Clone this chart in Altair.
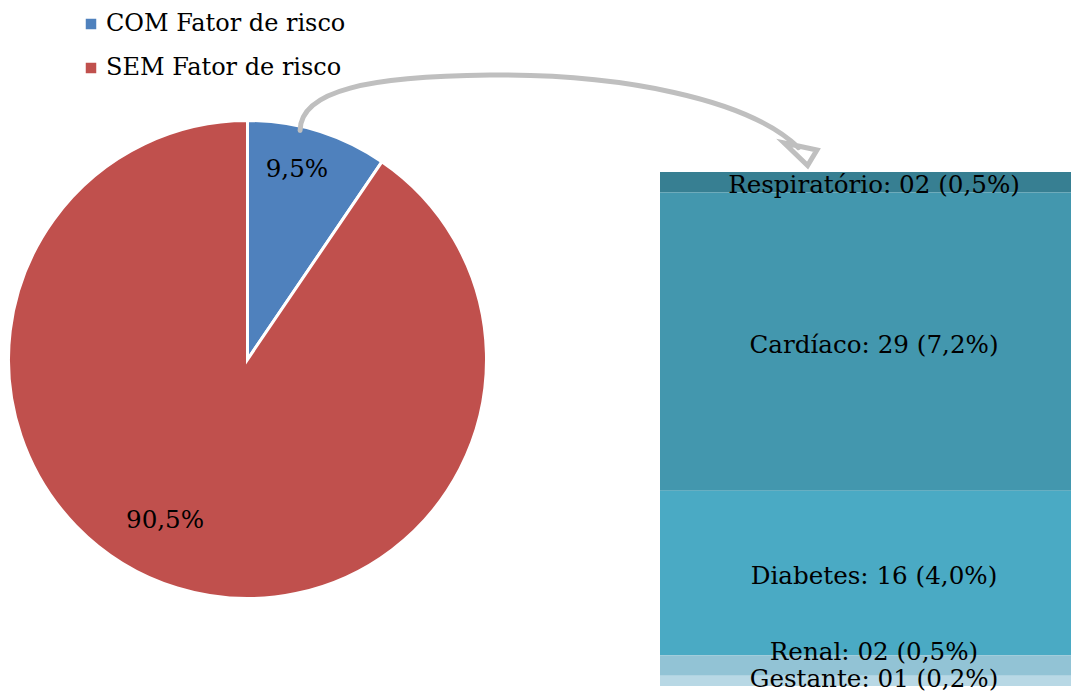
import altair as alt
import pandas as pd

# Pie data
pie_cats = ["COM Fator de risco", "SEM Fator de risco"]
pie_vals = [9.5, 90.5]
pie_labels = ["9,5%", "90,5%"]
pie_colors = ["#4f81bd", "#c0504d"]

# Stacked bar data (breakdown of "COM Fator de risco")
bar_cats = ["Respiratório", "Cardíaco", "Diabetes", "Renal", "Gestante"]
bar_vals = [2, 29, 16, 2, 1]
bar_labels = ["Respiratório: 02 (0,5%)", "Cardíaco: 29 (7,2%)", "Diabetes: 16 (4,0%)",
              "Renal: 02 (0,5%)", "Gestante: 01 (0,2%)"]
bar_colors = ["#377f92", "#4397ae", "#4aaac4", "#92c3d5", "#b8d8e5"]

FONT = "DejaVu Serif"
FS = 24.6

pie_df = pd.DataFrame({"cat": pie_cats, "v": pie_vals, "lab": pie_labels,
                       "ord": list(range(len(pie_cats)))})
bar_df = pd.DataFrame({"cat": bar_cats, "v": bar_vals, "lab": bar_labels,
                       "ord": list(range(len(bar_cats)))})

CX, CY, R = 239.5, 351.5, 239

pie = alt.Chart(pie_df).mark_arc(radius=R, stroke="white", strokeWidth=3).encode(
    theta=alt.Theta("v:Q", stack=True),
    order=alt.Order("ord:Q"),
    color=alt.Color("cat:N", scale=alt.Scale(domain=pie_cats, range=pie_colors),
                    legend=alt.Legend(title=None, orient="none", legendX=71, legendY=4,
                                      symbolType="square", symbolSize=110,
                                      symbolStrokeWidth=0,
                                      labelFont=FONT, labelFontSize=24, labelColor="black",
                                      rowPadding=20, labelOffset=3, labelLimit=400)),
    x=alt.value(CX), y=alt.value(CY),
)

pie_text_com = alt.Chart(pie_df).mark_text(radius=192, font=FONT, fontSize=FS,
                                           color="black", dx=-7, dy=-6).encode(
    theta=alt.Theta("v:Q", stack=True),
    order=alt.Order("ord:Q"),
    text=alt.condition("datum.ord == 0", alt.Text("lab:N"), alt.value("")),
    x=alt.value(CX), y=alt.value(CY),
)
pie_text_sem = alt.Chart(pie_df).mark_text(radius=192, font=FONT, fontSize=FS,
                                           color="black", dx=-26, dy=-22).encode(
    theta=alt.Theta("v:Q", stack=True),
    order=alt.Order("ord:Q"),
    text=alt.condition("datum.ord == 1", alt.Text("lab:N"), alt.value("")),
    x=alt.value(CX), y=alt.value(CY),
)

yscale = alt.Scale(domain=[0, sum(bar_vals)], range=[164, 678])


def stacked(ch):
    return ch.transform_stack(
        stack="v", as_=["y0", "y1"], groupby=[], sort=[alt.SortField("ord", "ascending")]
    )


bar = stacked(alt.Chart(bar_df)).mark_rect().encode(
    x=alt.value(652), x2=alt.value(1075),
    y=alt.Y("y0:Q", scale=yscale, axis=None),
    y2="y1:Q",
    color=alt.Color("cat:N", scale=alt.Scale(domain=bar_cats, range=bar_colors), legend=None),
)


def bar_text(cond, dy):
    return stacked(alt.Chart(bar_df)).transform_calculate(
        mid="(datum.y0 + datum.y1) / 2"
    ).mark_text(font=FONT, fontSize=FS, color="black", dy=dy).encode(
        x=alt.value(866),
        y=alt.Y("mid:Q", scale=yscale, axis=None),
        text=alt.condition(cond, alt.Text("lab:N"), alt.value("")),
    )


bt_main = bar_text("datum.cat != 'Renal' && datum.cat != 'Gestante'", 4)
bt_renal = bar_text("datum.cat == 'Renal'", -12)
bt_gest = bar_text("datum.cat == 'Gestante'", -1)

# decorative curved arrow from pie slice to the bar
ARROW = ("M-0.992,0.046 C-0.990,-0.110 -0.723,-0.162 -0.262,-0.167 "
         "C0.238,-0.172 0.730,-0.077 0.925,0.112 "
         "M0.870,0.094 L0.996,0.121 L0.960,0.181 Z")
arrow = alt.Chart(pd.DataFrame({"a": [0]})).mark_point(
    shape=ARROW, filled=False, stroke="#bfbfbf", strokeWidth=5, opacity=1,
    strokeCap="round", strokeJoin="miter"
).encode(x=alt.value(550), y=alt.value(110.5), size=alt.value(260 * 260 * 4))

chart = alt.layer(pie, pie_text_com, pie_text_sem, bar, bt_main, bt_renal, bt_gest,
                  arrow).resolve_scale(
    color="independent"
).properties(
    width=1063, height=689, padding=0, autosize="none"
).configure_view(stroke=None)

chart.save("out.html", embed_options={"renderer": "svg", "actions": False})
